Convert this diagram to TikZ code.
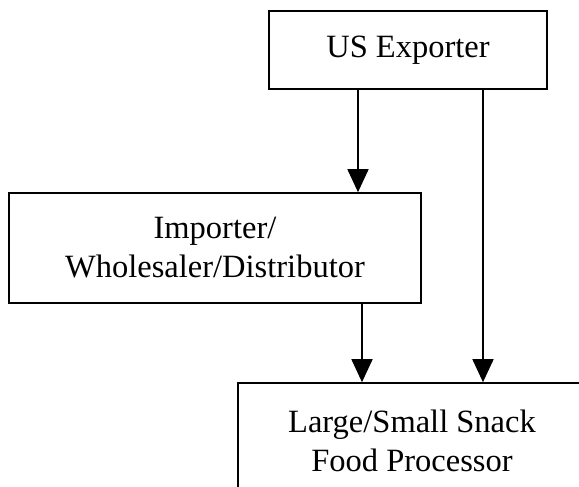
\documentclass[tikz,border=0pt]{standalone}
\usepackage{fontspec}
\setmainfont{Liberation Serif}
\usetikzlibrary{arrows.meta}
\begin{document}
\begin{tikzpicture}[x=1pt,y=-1pt,
  box/.style={draw,line width=1.6pt,inner sep=0pt,align=center,
    font=\fontsize{32.5}{39}\selectfont},
  arr/.style={line width=1.6pt,-{Triangle[width=21pt,length=23pt]}}]
\useasboundingbox (0,0) rectangle (579,487);
\clip (0,0) rectangle (579,487);
% boxes
\node[box,minimum width=278pt,minimum height=78pt] (exp) at (408,50) {US Exporter};
\node[box,minimum width=412pt,minimum height=110pt] (imp) at (215,248) {Importer/\\Wholesaler/Distributor};
\node[box,minimum width=348pt,minimum height=116pt] (proc) at (412,441) {Large/Small Snack\\Food Processor};
% vertical guides for the connectors
\coordinate (xa) at (358,0);
\coordinate (xb) at (362,0);
\coordinate (xc) at (483,0);
% connectors
\draw[arr] (exp.south -| xa) -- (imp.north -| xa);
\draw[arr] (imp.south -| xb) -- (proc.north -| xb);
\draw[arr] (exp.south -| xc) -- (proc.north -| xc);
\end{tikzpicture}
\end{document}
